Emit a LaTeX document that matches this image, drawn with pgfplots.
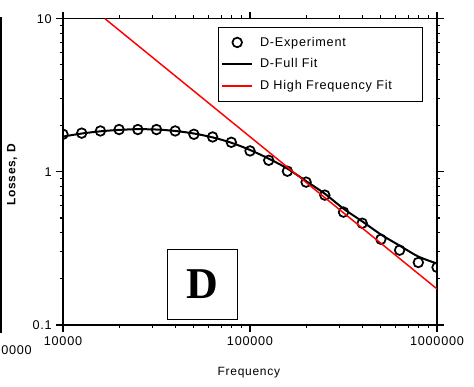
\documentclass[border=0pt]{standalone}
\usepackage{pgfplots}
\pgfplotsset{compat=1.18}
\usepackage{fontspec}
\setmainfont{Liberation Sans}[LetterSpace=6]
\newfontfamily\timesfont{Liberation Serif}
\pgfplotstableread{
f D
10000 1.76
12589 1.79
15849 1.85
19953 1.89
25119 1.89
31623 1.89
39811 1.85
50119 1.76
63096 1.69
79433 1.56
100000 1.37
125893 1.19
158489 1.01
199526 0.857
251189 0.705
316228 0.546
398107 0.462
501187 0.363
630957 0.308
794328 0.256
1000000 0.238
}\expdata
\pgfplotstableread{
f D
10000 1.70
12589 1.78
15849 1.84
19953 1.88
25119 1.90
31623 1.89
39811 1.85
50119 1.78
63096 1.68
79433 1.55
100000 1.39
125893 1.22
158489 1.05
199526 0.87
251189 0.72
316228 0.575
398107 0.475
501187 0.39
630957 0.33
794328 0.28
1000000 0.252
}\fitdata
\pgfplotstableread{
f D
16770 10
1000000 0.172
}\hfdata
\begin{document}
\begin{tikzpicture}[x=0.75pt,y=0.75pt]
\useasboundingbox (0,0) rectangle (474,386);
\draw[line width=0.9pt] (1,53) -- (1,369);
\node[anchor=east, font=\fontsize{9.5}{11}\selectfont, inner sep=0pt] at (32,36) {0000};
\begin{axis}[
  at={(47.25pt,45.75pt)}, anchor=south west,
  scale only axis, width=280.5pt, height=229.7pt,
  xmode=log, ymode=log,
  xmin=10000, xmax=1000000, ymin=0.1, ymax=10,
  xtick={10000,100000,1000000}, xticklabels={10000,100000,1000000},
  minor xtick={20000,30000,40000,50000,60000,70000,80000,90000,200000,300000,400000,500000,600000,700000,800000,900000},
  ytick={0.1,1,10}, yticklabels={0.1,1,10},
  minor ytick={0.2,0.3,0.4,0.5,0.6,0.7,0.8,0.9,2,3,4,5,6,7,8,9},
  tick align=outside,
  major tick length=5pt, minor tick length=2.5pt,
  axis line style={line width=1pt},
  every tick/.style={black, line width=0.8pt},
  tick label style={font=\fontsize{9.5}{11}\selectfont},
  xlabel={Frequency},
  xlabel style={at={(axis description cs:0.497,-0.156)}, anchor=center, font=\fontsize{9}{11}\selectfont},
  ylabel={\bfseries Losses, D},
  ylabel style={at={(axis description cs:-0.136,0.49)}, anchor=center, font=\fontsize{9}{10}\selectfont},
  clip marker paths=true,
  legend style={at={(0.414,0.973)}, anchor=north west, draw=black, line width=0.8pt,
    font=\fontsize{9.5}{11}\selectfont, row sep=4pt, inner xsep=2pt, inner ysep=5pt, cells={anchor=west}},
  legend image code/.code={\draw[#1] (0cm,0cm) -- (0.8cm,0cm);},
]
\addplot[only marks, mark=o, mark size=3.6pt, mark options={line width=1.3pt, black},
  legend image code/.code={\draw[mark=o, mark size=3.6pt, mark options={line width=1.3pt, black}] plot coordinates {(0.4cm,0cm)};}]
  table[x=f, y=D] {\expdata};
\addlegendentry{\hspace*{3pt}D-Experiment}
\addplot[black, line width=1.5pt, smooth] table[x=f, y=D] {\fitdata};
\addlegendentry{\hspace*{3pt}D-Full Fit}
\addplot[red, line width=1.1pt] table[x=f, y=D] {\hfdata};
\addlegendentry{\hspace*{3pt}D High Frequency Fit\hspace*{19pt}}
\node[draw, line width=0.6pt, minimum width=52.5pt, minimum height=52.5pt, inner sep=0pt,
  font=\timesfont\bfseries\fontsize{33}{33}\selectfont] at (rel axis cs:0.374,0.134) {D};
\end{axis}
\end{tikzpicture}
\end{document}
